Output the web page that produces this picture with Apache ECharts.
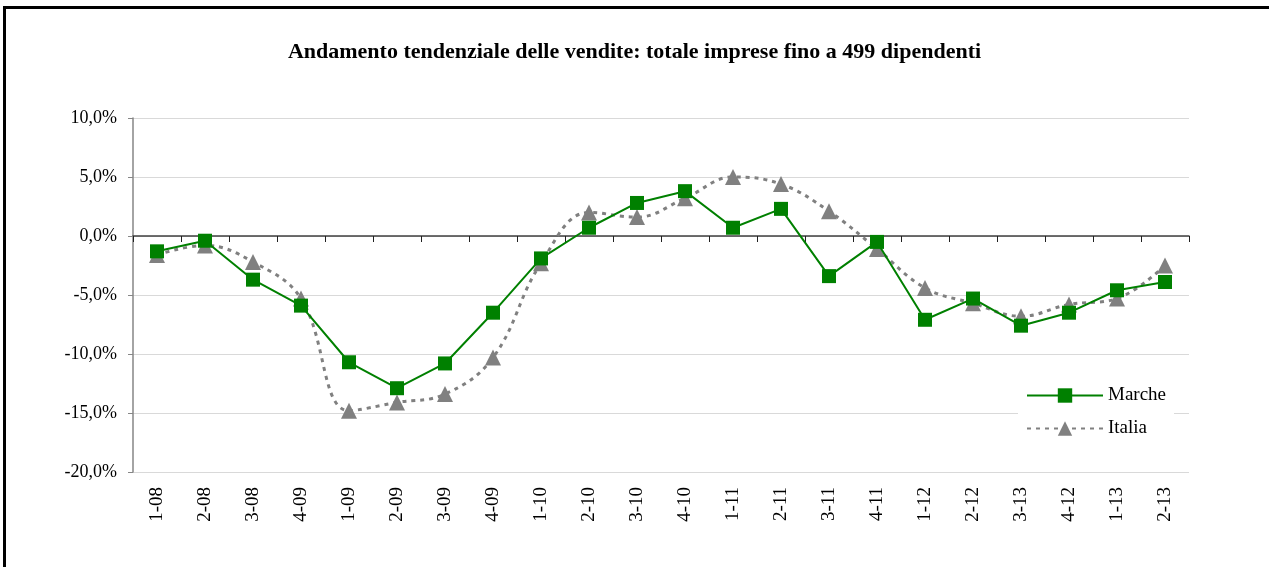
<!DOCTYPE html>
<html>
<head>
<meta charset="utf-8">
<script src="https://cdn.jsdelivr.net/npm/echarts@6/dist/echarts.min.js"></script>
<style>
  html, body { margin: 0; padding: 0; background: #fff; }
  #chart { width: 1269px; height: 567px; }
</style>
</head>
<body>
<div id="chart"></div>
<script>
// quarters as labelled in the source
const categories = ["1-08", "2-08", "3-08", "4-09", "1-09", "2-09", "3-09", "4-09",
  "1-10", "2-10", "3-10", "4-10", "1-11", "2-11", "3-11", "4-11",
  "1-12", "2-12", "3-13", "4-12", "1-13", "2-13"];
const marche = [-1.3, -0.4, -3.7, -5.9, -10.7, -12.9, -10.8, -6.5,
  -1.9, 0.7, 2.8, 3.8, 0.7, 2.3, -3.4, -0.5,
  -7.1, -5.3, -7.6, -6.5, -4.6, -3.9];
const italia = [-1.6, -0.8, -2.2, -5.3, -14.8, -14.1, -13.4, -10.3,
  -2.3, 2.0, 1.6, 3.2, 5.0, 4.4, 2.1, -1.1,
  -4.4, -5.7, -6.8, -5.8, -5.3, -2.5];
const yTicks = [-20, -15, -10, -5, 0, 5, 10];

const serif = '"Liberation Serif", "Times New Roman", serif';
const dom = echarts.init(document.getElementById("chart"));

const option = {
  animation: false,
  textStyle: { fontFamily: serif },
  title: {
    text: "Andamento tendenziale delle vendite: totale imprese fino a 499 dipendenti",
    left: "center",
    top: 36,
    textStyle: { fontFamily: serif, fontWeight: "bold", fontSize: 22, color: "#000" },
  },
  graphic: [
    {
      type: "rect",
      shape: { x: 4.5, y: 7.5, width: 1400, height: 700 },
      style: { fill: "none", stroke: "#000", lineWidth: 3 },
      silent: true,
    },
  ],
  legend: {
    orient: "vertical",
    left: 1018,
    top: 382,
    padding: [4, 8, 4, 8],
    backgroundColor: "#fff",
    itemWidth: 76,
    itemHeight: 18,
    itemGap: 14,
    data: ["Marche", "Italia"],
    textStyle: { fontFamily: serif, fontSize: 19, color: "#000" },
  },
  grid: { left: 133, right: 80, top: 118, bottom: 95, containLabel: false },
  xAxis: [
    {
      type: "category",
      data: categories,
      position: "bottom",
      axisLine: { show: false, onZero: false },
      axisTick: { show: false },
      axisLabel: {
        rotate: 90,
        margin: 15,
        fontFamily: serif,
        fontSize: 19,
        color: "#000",
        interval: 0,
      },
    },
    {
      type: "category",
      data: categories,
      position: "top",
      axisLine: { show: true, onZero: true, lineStyle: { color: "#404040", width: 1.5 } },
      axisTick: { show: true, inside: true, length: 6, lineStyle: { color: "#202020" } },
      axisLabel: { show: false },
    },
  ],
  yAxis: {
    type: "value",
    min: -20,
    max: 10,
    interval: 5,
    axisLine: { show: true, lineStyle: { color: "#868686", width: 1.5 } },
    axisTick: { show: true, length: 5, lineStyle: { color: "#868686" } },
    splitLine: { lineStyle: { color: "#d9d9d9", width: 1 } },
    axisLabel: {
      margin: 16,
      fontFamily: serif,
      fontSize: 18,
      color: "#000",
      formatter: (v) => (yTicks.includes(v) ? v.toFixed(1).replace(".", ",") + "%" : ""),
    },
  },
  series: [
    {
      name: "Italia",
      type: "line",
      data: italia,
      smooth: 0.4,
      symbol: "triangle",
      symbolSize: 16,
      color: "#808080",
      itemStyle: { color: "#808080" },
      lineStyle: { color: "#808080", width: 3, type: [4, 5] },
      z: 2,
    },
    {
      name: "Marche",
      type: "line",
      data: marche,
      symbol: "rect",
      symbolSize: 14,
      color: "#008000",
      itemStyle: { color: "#008000" },
      lineStyle: { color: "#008000", width: 2 },
      z: 3,
    },
  ],
};

dom.setOption(option);
window.addEventListener("resize", () => dom.resize());
</script>
</body>
</html>
